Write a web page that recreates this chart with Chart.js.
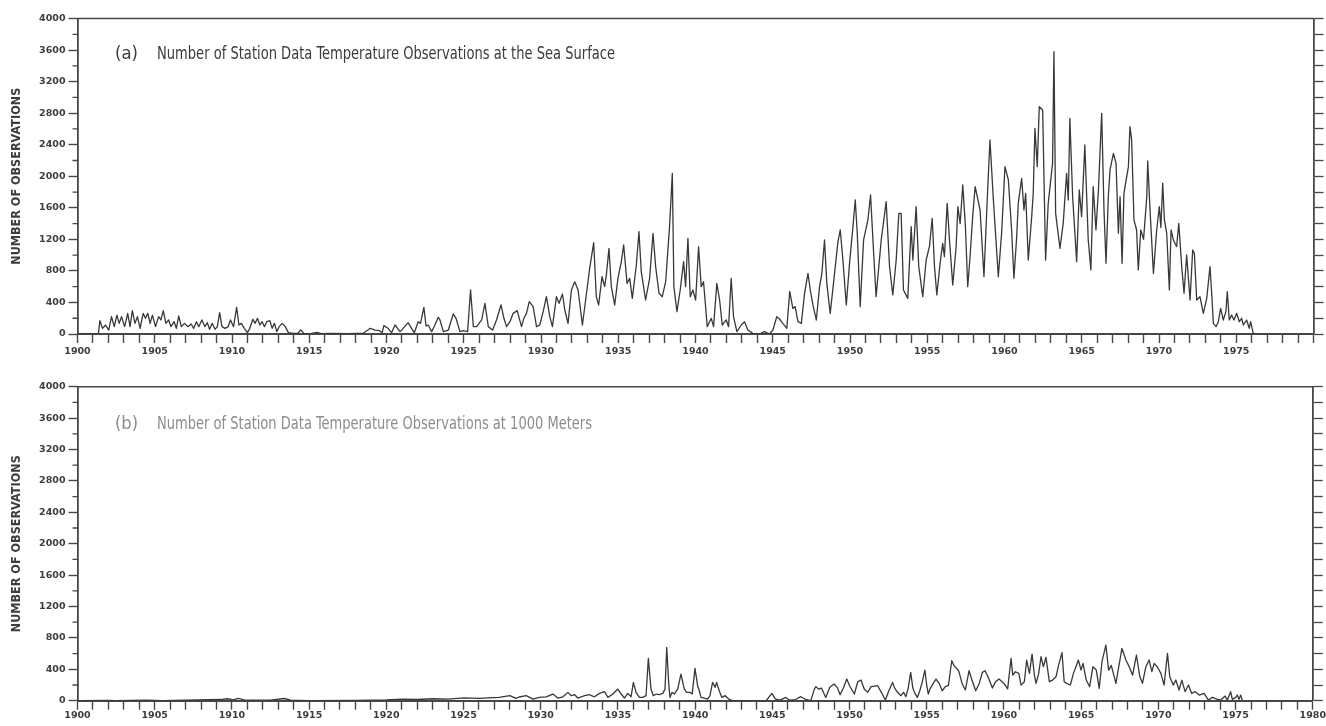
<!DOCTYPE html>
<html>
<head>
<meta charset="utf-8">
<script src="https://cdn.jsdelivr.net/npm/chart.js@4.4.0/dist/chart.umd.min.js"></script>
<style>
  html, body { margin: 0; padding: 0; background: #ffffff; }
  #wrap { position: relative; width: 1326px; height: 726px; overflow: hidden; }
  canvas { position: absolute; left: 0; }
  #panelA { top: 0; }
  #panelB { top: 370px; }
</style>
</head>
<body>
<div id="wrap">
  <canvas id="panelA" width="1326" height="370"></canvas>
  <canvas id="panelB" width="1326" height="356"></canvas>
</div>
<script>
// Monthly counts of station temperature observations, as [year, count]
const surfaceObs = [
  [1900.0,0],[1901.35,0],[1901.45,169],[1901.62,72],[1901.82,114],[1902.02,50],[1902.2,220],[1902.38,93],
  [1902.55,240],[1902.7,135],[1902.85,220],[1903.05,93],[1903.25,262],[1903.4,93],[1903.55,296],[1903.72,135],
  [1903.88,220],[1904.05,72],[1904.25,262],[1904.4,199],[1904.55,262],[1904.7,135],[1904.85,240],[1905.05,93],
  [1905.25,220],[1905.4,178],[1905.55,296],[1905.72,135],[1905.9,178],[1906.05,93],[1906.25,156],[1906.4,72],
  [1906.55,228],[1906.72,93],[1906.92,135],[1907.15,93],[1907.35,127],[1907.52,72],[1907.7,156],[1907.85,93],
  [1908.05,178],[1908.25,93],[1908.4,144],[1908.55,59],[1908.72,135],[1908.9,59],[1909.05,93],[1909.2,270],
  [1909.35,93],[1909.55,72],[1909.75,93],[1909.9,178],[1910.1,93],[1910.3,338],[1910.45,114],[1910.6,135],
  [1910.8,72],[1911.0,17],[1911.15,72],[1911.35,186],[1911.5,135],[1911.65,199],[1911.8,114],[1911.95,156],
  [1912.1,93],[1912.25,156],[1912.45,169],[1912.6,72],[1912.75,135],[1912.9,30],[1913.05,93],[1913.25,135],
  [1913.45,93],[1913.65,17],[1913.95,8],[1914.25,8],[1914.45,50],[1914.65,8],[1915.0,0],[1915.5,20],
  [1915.8,5],[1916.5,8],[1917.5,5],[1918.5,10],
  [1918.95,72],[1919.25,50],[1919.55,42],[1919.72,17],[1919.83,106],[1920.1,72],[1920.33,17],[1920.55,114],
  [1920.88,30],[1921.08,72],[1921.4,144],[1921.62,72],[1921.8,17],[1922.05,156],[1922.2,135],[1922.42,338],
  [1922.56,101],[1922.7,114],[1922.92,30],[1923.08,93],[1923.35,211],[1923.46,178],[1923.68,30],[1924.0,50],
  [1924.32,254],[1924.5,199],[1924.75,30],[1924.97,42],[1925.25,30],[1925.44,558],[1925.62,93],[1925.83,93],
  [1926.16,178],[1926.37,389],[1926.59,93],[1926.87,50],[1927.12,178],[1927.41,368],[1927.6,199],[1927.77,93],
  [1927.99,156],[1928.2,262],[1928.46,296],[1928.74,93],[1928.89,199],[1929.06,262],[1929.24,410],[1929.49,347],
  [1929.71,93],
  [1929.92,114],[1930.14,283],[1930.35,473],[1930.57,220],[1930.74,93],[1931.0,473],[1931.17,389],[1931.39,507],
  [1931.54,304],[1931.75,135],[1931.97,558],[1932.18,663],[1932.4,558],[1932.68,114],[1932.89,431],[1933.15,833],
  [1933.41,1158],[1933.58,473],[1933.73,368],[1933.95,727],[1934.12,600],[1934.23,748],[1934.4,1086],[1934.55,600],
  [1934.77,368],[1934.98,706],[1935.2,917],[1935.35,1129],[1935.57,642],[1935.74,706],[1935.91,452],[1936.17,875],
  [1936.34,1298],[1936.49,790],[1936.77,431],[1937.03,706],[1937.25,1277],[1937.42,854],[1937.64,516],[1937.85,473],
  [1938.07,663],[1938.32,1361],[1938.5,2037],[1938.6,600],[1938.8,283],[1939.01,558],[1939.23,917],[1939.36,600],
  [1939.51,1213],[1939.66,473],[1939.83,558],[1940.01,431],[1940.2,1107],[1940.37,600],[1940.52,663],[1940.76,93],
  [1941.02,199],[1941.17,93],[1941.38,642],[1941.56,431],[1941.73,114],[1941.99,178],[1942.14,93],[1942.31,706],
  [1942.46,220],[1942.68,30],[1942.96,114],[1943.17,156],[1943.39,51],[1943.71,8],[1944.14,0],[1944.47,30],
  [1944.79,0],[1945.01,51],[1945.26,220],[1945.44,190],[1945.65,135],[1945.91,72],[1946.1,540],[1946.3,325],
  [1946.45,347],[1946.63,156],[1946.85,135],
  [1947.06,516],[1947.28,769],[1947.43,558],[1947.6,368],[1947.82,177],[1948.03,600],[1948.18,769],[1948.35,1192],
  [1948.5,642],[1948.72,262],[1949.0,769],[1949.22,1171],[1949.37,1319],[1949.54,938],[1949.76,368],[1949.97,896],
  [1950.19,1361],[1950.34,1699],[1950.47,1277],[1950.66,347],[1950.88,1192],[1951.16,1446],[1951.33,1763],[1951.52,1065],
  [1951.69,473],[1952.02,1192],[1952.19,1446],[1952.34,1678],[1952.56,854],[1952.77,495],[1952.99,938],[1953.16,1530],
  [1953.31,1530],[1953.46,558],[1953.74,452],[1953.96,1361],[1954.07,938],[1954.28,1615],[1954.45,854],[1954.71,473],
  [1954.93,938],[1955.14,1107],[1955.32,1467],[1955.47,854],[1955.62,495],[1955.83,896],[1956.0,1150],[1956.11,980],
  [1956.29,1657],[1956.44,1192],[1956.65,621],[1956.87,1107],[1956.98,1615],[1957.13,1400],[1957.3,1889],[1957.47,1361],
  [1957.62,600],[1957.77,980],[1957.94,1488],[1958.1,1868],
  [1958.42,1572],[1958.67,727],[1958.89,1741],[1959.06,2460],[1959.28,1699],[1959.6,727],[1959.82,1300],[1960.03,2122],
  [1960.25,1953],[1960.46,1319],[1960.61,706],[1960.79,1234],[1960.89,1657],[1961.11,1974],[1961.26,1572],[1961.37,1784],
  [1961.54,938],[1961.76,1488],[1961.86,1784],[1961.97,2608],[1962.12,2122],[1962.25,2883],[1962.47,2840],[1962.66,938],
  [1962.83,1657],[1963.11,2164],[1963.2,3580],[1963.31,1530],[1963.59,1086],[1963.8,1403],[1964.02,2037],[1964.13,1699],
  [1964.23,2735],[1964.41,1741],[1964.67,917],[1964.84,1826],[1964.99,1488],[1965.2,2397],[1965.42,1192],[1965.59,812],
  [1965.74,1868],[1965.92,1319],[1966.08,1826],[1966.29,2798],[1966.44,1572],[1966.57,896],[1966.72,1741],[1966.83,2080],
  [1967.05,2291],[1967.22,2164],[1967.37,1277],[1967.48,1741],[1967.61,896],[1967.73,1784],[1968.02,2122],[1968.12,2629],
  [1968.23,2460],[1968.38,1446],[1968.55,1319],[1968.66,812],[1968.82,1319],[1969.0,1200],[1969.21,1741],[1969.27,2194],
  [1969.42,1572],[1969.64,769],[1969.85,1319],[1970.02,1615],[1970.12,1350],[1970.24,1911],[1970.35,1446],[1970.5,1277],
  [1970.67,558],[1970.78,1319],[1970.93,1192],[1971.14,1107],[1971.28,1403],[1971.47,854],[1971.62,516],[1971.79,1002],
  [1972.01,431],[1972.18,1065],[1972.29,1023],[1972.44,431],[1972.65,473],[1972.87,262],[1973.09,452],[1973.3,854],
  [1973.41,516],[1973.52,135],[1973.69,93],[1973.84,156],[1973.99,325],[1974.16,177],[1974.33,283],[1974.42,537],
  [1974.55,177],[1974.7,241],[1974.85,177],[1975.03,262],[1975.2,156],[1975.35,199],[1975.46,114],[1975.67,177],
  [1975.84,72],[1975.93,156],[1976.1,8],[1976.32,0]
];

const depth1000Obs = [
  [1900.0,0],[1902.0,5],[1902.5,0],[1904.5,8],[1905.5,0],[1909.3,15],[1909.7,25],[1910.1,10],
  [1910.4,30],[1910.8,10],[1912.5,8],[1913.4,28],[1913.8,8],[1915.0,0],[1918.0,5],[1920.0,10],
  [1921.0,20],[1922.0,15],[1923.0,25],[1924.0,20],[1925.0,35],[1926.0,30],[1927.3,42],
  [1928.0,64],[1928.4,30],[1928.6,47],[1929.06,64],[1929.5,21],[1929.9,42],[1930.35,50],[1930.79,85],
  [1931.1,34],[1931.44,50],[1931.76,106],[1931.98,64],[1932.2,76],[1932.4,34],[1932.84,64],[1933.16,76],
  [1933.48,50],[1933.81,93],[1934.13,115],[1934.35,42],[1934.67,85],[1934.99,148],[1935.21,85],[1935.42,34],
  [1935.64,93],[1935.85,50],[1936.0,233],[1936.17,106],[1936.39,42],[1936.6,42],[1936.82,64],[1936.97,539],
  [1937.14,148],[1937.29,64],[1937.5,85],[1937.68,76],[1937.9,93],[1938.05,148],[1938.16,679],[1938.29,212],
  [1938.37,42],[1938.5,106],[1938.65,85],[1938.87,148],[1939.08,339],[1939.3,148],[1939.45,106],[1939.66,106],
  [1939.81,85],[1939.99,412],[1940.16,191],[1940.27,127],[1940.38,42],[1940.6,34],[1940.81,21],[1940.96,64],
  [1941.13,233],[1941.3,170],[1941.39,233],[1941.56,127],[1941.73,42],[1941.95,64],[1942.17,21],[1942.43,0],
  [1944.6,0],[1944.97,93],[1945.2,21],[1945.5,8],[1945.87,42],[1946.1,8],[1946.5,15],[1946.84,51],
  [1947.1,21],[1947.49,0],[1947.72,148],[1947.82,178],[1948.0,148],[1948.18,161],[1948.46,42],[1948.72,170],
  [1949.0,212],[1949.2,170],[1949.39,76],[1949.6,161],[1949.82,276],[1950.0,191],[1950.31,85],[1950.53,240],
  [1950.74,263],[1950.95,150],[1951.17,106],[1951.4,180],[1951.82,191],[1952.05,110],[1952.32,8],[1952.55,130],
  [1952.79,233],[1952.92,160],[1953.1,110],[1953.33,64],[1953.5,106],[1953.65,51],[1953.8,161],[1953.96,361],
  [1954.1,161],[1954.2,106],[1954.39,42],[1954.55,127],[1954.7,233],[1954.88,390],[1955.0,191],[1955.1,85],
  [1955.2,148],[1955.46,233],[1955.6,276],[1955.8,221],[1956.0,127],[1956.2,178],[1956.4,191],[1956.62,509],
  [1956.77,445],[1956.9,420],[1957.08,373],[1957.3,212],[1957.5,136],[1957.74,382],[1957.95,250],[1958.17,127],
  [1958.4,220],[1958.6,361],[1958.78,382],[1959.0,288],[1959.25,161],[1959.45,240],[1959.68,276],[1960.0,220],
  [1960.24,150],[1960.46,539],[1960.57,327],[1960.74,369],[1960.96,348],[1961.11,199],[1961.32,242],[1961.47,518],
  [1961.65,348],[1961.82,594],[1961.97,327],[1962.08,221],[1962.25,348],[1962.4,560],[1962.55,433],[1962.72,552],
  [1962.94,242],[1963.15,263],[1963.37,305],[1963.54,454],[1963.76,611],[1963.9,242],[1964.06,221],[1964.3,200],
  [1964.5,348],[1964.66,433],[1964.82,518],[1964.99,390],[1965.12,475],[1965.33,263],[1965.55,178],[1965.76,433],
  [1965.98,390],[1966.17,157],[1966.35,500],[1966.6,708],[1966.78,390],[1966.95,450],[1967.25,221],[1967.64,666],
  [1967.9,518],[1968.11,433],[1968.33,327],[1968.58,581],[1968.8,305],[1968.97,221],[1969.19,433],[1969.4,518],
  [1969.58,370],[1969.73,475],[1969.94,430],[1970.16,348],[1970.37,199],[1970.59,602],[1970.74,305],[1970.96,199],
  [1971.13,263],[1971.34,136],[1971.52,263],[1971.73,115],[1971.95,200],[1972.16,93],[1972.38,115],[1972.64,72],
  [1972.96,93],[1973.24,8],[1973.5,42],[1973.82,17],[1974.04,8],[1974.32,59],[1974.47,8],[1974.68,115],
  [1974.79,17],[1975.01,42],[1975.11,72],[1975.22,17],[1975.33,72],[1975.44,0]
];

// Axis label sets
const yearLabelsA = [1900,1905,1910,1915,1920,1925,1930,1935,1940,1945,1950,1955,1960,1965,1970,1975];
const yearLabelsB = [1900,1905,1910,1915,1920,1925,1930,1935,1940,1945,1950,1955,1960,1965,1970,1975,1980];
const countLabels = [0,400,800,1200,1600,2000,2400,2800,3200,3600,4000];

const titleA = ['(a)', 'Number of Station Data Temperature Observations at the Sea Surface'];
const titleB = ['(b)', 'Number of Station Data Temperature Observations at 1000 Meters'];
const yTitle = 'NUMBER OF OBSERVATIONS';

const AXIS = '#474747';
const INK = '#3a3835';
const TICK_FONT = { family: 'DejaVu Sans', size: 9.5, weight: 'bold' };
const NARROW = '"Liberation Sans Narrow", "DejaVu Sans Condensed", "Liberation Sans", sans-serif';

// Draw a string squeezed or stretched to a given width
function fitText(ctx, text, x, y, width, font, color, align) {
  ctx.save();
  ctx.font = font;
  ctx.fillStyle = color;
  const w = ctx.measureText(text).width;
  ctx.translate(x, y);
  ctx.scale(width / w, 1);
  ctx.textAlign = align || 'left';
  ctx.fillText(text, 0, 0);
  ctx.restore();
}

const panelDecor = {
  id: 'panelDecor',
  afterDraw(chart, args, o) {
    const { ctx, chartArea: a, scales } = chart;
    ctx.save();
    ctx.strokeStyle = AXIS;
    // top edge of the frame
    ctx.lineWidth = 1.6;
    ctx.beginPath();
    ctx.moveTo(a.left - 0.8, a.top);
    ctx.lineTo(a.right + 0.8, a.top);
    ctx.stroke();
    // short minor ticks on the count axis
    ctx.lineWidth = 1.3;
    ctx.beginPath();
    for (let v = 200; v < 4000; v += 400) {
      const p = scales.y.getPixelForValue(v);
      ctx.moveTo(a.left - 5, p);
      ctx.lineTo(a.left, p);
    }
    ctx.stroke();
    ctx.restore();

    // panel title
    ctx.save();
    ctx.textBaseline = 'alphabetic';
    fitText(ctx, o.title[0], 115, o.titleY, 23, '18.5px ' + NARROW, o.titleColor);
    fitText(ctx, o.title[1], 157, o.titleY, o.titleWidth, '18.5px ' + NARROW, o.titleColor);
    ctx.restore();

    // rotated axis title
    ctx.save();
    ctx.translate(17.5, (a.top + a.bottom) / 2);
    ctx.rotate(-Math.PI / 2);
    ctx.textBaseline = 'middle';
    fitText(ctx, yTitle, 0, 0, 177, 'bold 11.5px "DejaVu Sans"', '#3d3d3d', 'center');
    ctx.restore();
  }
};

function makePanel(id, series, cfg) {
  const points = series.map(([x, y]) => ({ x, y }));
  return new Chart(document.getElementById(id), {
    type: 'line',
    data: {
      datasets: [{
        data: points,
        borderColor: INK,
        borderWidth: 1.3,
        borderJoinStyle: 'round',
        pointRadius: 0,
        tension: 0,
        fill: false
      }]
    },
    options: {
      responsive: false,
      animation: false,
      devicePixelRatio: 1,
      layout: { padding: { top: cfg.top, left: 0, right: 0, bottom: 0 } },
      plugins: {
        legend: { display: false },
        tooltip: { enabled: false },
        panelDecor: { title: cfg.title, titleY: cfg.titleY, titleColor: cfg.titleColor, titleWidth: cfg.titleWidth }
      },
      scales: {
        x: {
          type: 'linear', min: 1900, max: 1980,
          ticks: {
            stepSize: 1, autoSkip: false, maxRotation: 0, maxTicksLimit: 200,
            padding: cfg.labelPad, color: '#3d3d3d', font: TICK_FONT,
            callback: v => cfg.years.includes(v) ? String(v) : ''
          },
          grid: { drawOnChartArea: false, tickLength: 9, tickColor: AXIS, tickWidth: 1.4 },
          border: { color: AXIS, width: 2 },
          afterFit: s => { s.height = cfg.xHeight; }
        },
        y: {
          min: 0, max: 4000,
          ticks: {
            stepSize: 200, autoSkip: false, maxTicksLimit: 50, padding: 3,
            color: '#3d3d3d', font: TICK_FONT,
            callback: v => countLabels.includes(v) ? String(v) : ''
          },
          grid: {
            drawOnChartArea: false, tickLength: 9, tickWidth: 1.4,
            tickColor: c => (c.tick && c.tick.value % 400 === 0) ? AXIS : 'rgba(0,0,0,0)'
          },
          border: { color: AXIS, width: 1.8 },
          afterFit: s => { s.width = 77.5; }
        },
        y2: {
          position: 'right', min: 0, max: 4000,
          ticks: { stepSize: 200, autoSkip: false, maxTicksLimit: 50, callback: () => '' },
          grid: { drawOnChartArea: false, tickLength: 10, tickColor: AXIS, tickWidth: 1.3 },
          border: { color: AXIS, width: 1.8 },
          afterFit: s => { s.width = 12.5; }
        }
      }
    },
    plugins: [panelDecor]
  });
}

makePanel('panelA', surfaceObs, {
  top: 18.5, xHeight: 36, labelPad: 3, years: yearLabelsA,
  title: titleA, titleY: 59, titleColor: '#3b3b3b', titleWidth: 458
});
makePanel('panelB', depth1000Obs, {
  top: 16.7, xHeight: 25.3, labelPad: 0, years: yearLabelsB,
  title: titleB, titleY: 59, titleColor: '#8c8c8c', titleWidth: 435
});
</script>
</body>
</html>
